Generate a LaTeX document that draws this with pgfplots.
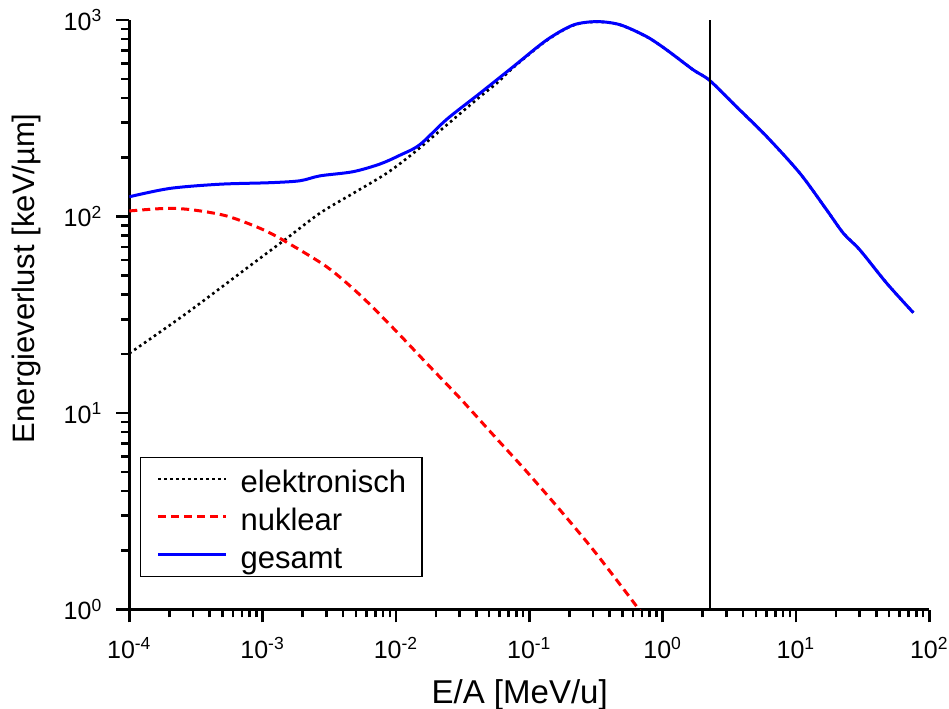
\documentclass[border=0pt]{standalone}
\usepackage{pgfplots}
\pgfplotsset{compat=1.18}
\usepackage{fontspec}
\setmainfont{Liberation Sans}
\begin{document}
\begin{tikzpicture}
\begin{axis}[
  scale only axis,
  width=400pt, height=294.75pt,
  xmode=log, ymode=log,
  xmin=1e-4, xmax=1e2, ymin=1, ymax=1000,
  axis x line*=bottom, axis y line*=left,
  axis line style={line width=1.3pt, black, -},
  tick align=outside,
  major tick length=6.5pt, minor tick length=4pt,
  every tick/.style={line width=1.3pt, black},
  xtick={1e-4,1e-3,1e-2,1e-1,1,10,100},
  xticklabels={10\textsuperscript{-4},10\textsuperscript{-3},10\textsuperscript{-2},10\textsuperscript{-1},10\textsuperscript{0},10\textsuperscript{1},10\textsuperscript{2}},
  ytick={1,10,100,1000},
  yticklabels={10\textsuperscript{0},10\textsuperscript{1},10\textsuperscript{2},10\textsuperscript{3}},
  ticklabel style={font=\fontsize{12.5}{14}\selectfont},
  xticklabel shift=4pt,
  yticklabel shift=3.5pt,
  xlabel={E/A [MeV/u]},
  ylabel={Energieverlust [keV/µm]},
  label style={font=\fontsize{15.5}{18}\selectfont},
  xlabel style={at={(axis description cs:0.488,-0.1603)}, anchor=base, font=\fontsize{16.5}{19}\selectfont},
  ylabel style={at={(axis description cs:-0.1285,0.562)}, anchor=center},
  legend cell align=left,
  legend image code/.code={\draw[#1] (0pt,0pt) -- (34pt,0pt);},
  legend style={at={(axis description cs:0.0134,0.0551)}, anchor=south west,
    draw=black, line width=0.6pt, font=\fontsize{15.5}{18}\selectfont,
    inner xsep=8pt, inner ysep=3pt, row sep=3.5pt, column sep=6.5pt,
    nodes={inner sep=0pt, text height=14.5pt, text depth=1pt}},
]
\coordinate (O) at (rel axis cs:0,0);
\addplot[black, line width=1.3pt, dash pattern=on 1.3pt off 1.7pt, smooth] coordinates {
(1e-4,20.1) (2.69e-4,32.2) (8.51e-4,57.8) (1.515e-3,77.4) (2.69e-3,104)
(4.76e-3,131) (8.52e-3,166) (0.0135,210) (0.024,292) (0.0427,407) (0.0569,476)
(0.0759,573) (0.135,787) (0.214,940) (0.321,979) (0.479,945) (0.759,822)
(1.074,704) (1.70,557) (2.265,491) (3.80,348) (6.04,255) (10.7,166) (17.0,108)
(22.7,82.1) (30.2,67.5) (48.0,45.7) (75.9,32.4)};
\addlegendentry{elektronisch}
\addplot[red, line width=1.5pt, dash pattern=on 4pt off 2.5pt, smooth] coordinates {
(1e-4,106.7) (1.91e-4,110) (3.01e-4,108) (5.38e-4,100.6) (9.55e-4,87.1)
(1.42e-3,75.9) (3.02e-3,55.5) (5.37e-3,39.9) (9.51e-3,27.1) (0.017,17.9)
(0.0302,11.9) (0.0537,7.73) (0.0956,5.03) (0.17,3.21) (0.302,2.01)
(0.538,1.21) (0.658,1.01) (1.0,0.70)};
\addlegendentry{nuklear}
\addplot[blue, line width=1.5pt, smooth] coordinates {
(1e-4,126) (2.02e-4,139) (4.79e-4,146) (1.135e-3,148.6) (1.905e-3,152)
(2.69e-3,161) (4.76e-3,169) (7.59e-3,185) (0.0107,205) (0.0151,232)
(0.024,312) (0.0427,424) (0.0759,579) (0.135,791) (0.214,943) (0.321,981)
(0.479,946) (0.759,823) (1.074,704) (1.70,557) (2.265,491) (3.80,348)
(6.04,255) (10.7,166) (17.0,108) (22.7,82.1) (30.2,67.5) (48.0,45.7) (75.9,32.4)};
\addlegendentry{gesamt}
\addplot[black, line width=1pt, forget plot] coordinates {(2.25,1) (2.25,1000)};
\end{axis}
\pgfresetboundingbox
\path ([shift={(-64.65pt,-49.25pt)}]O) rectangle ++(474.5pt,354pt);
\end{tikzpicture}
\end{document}
